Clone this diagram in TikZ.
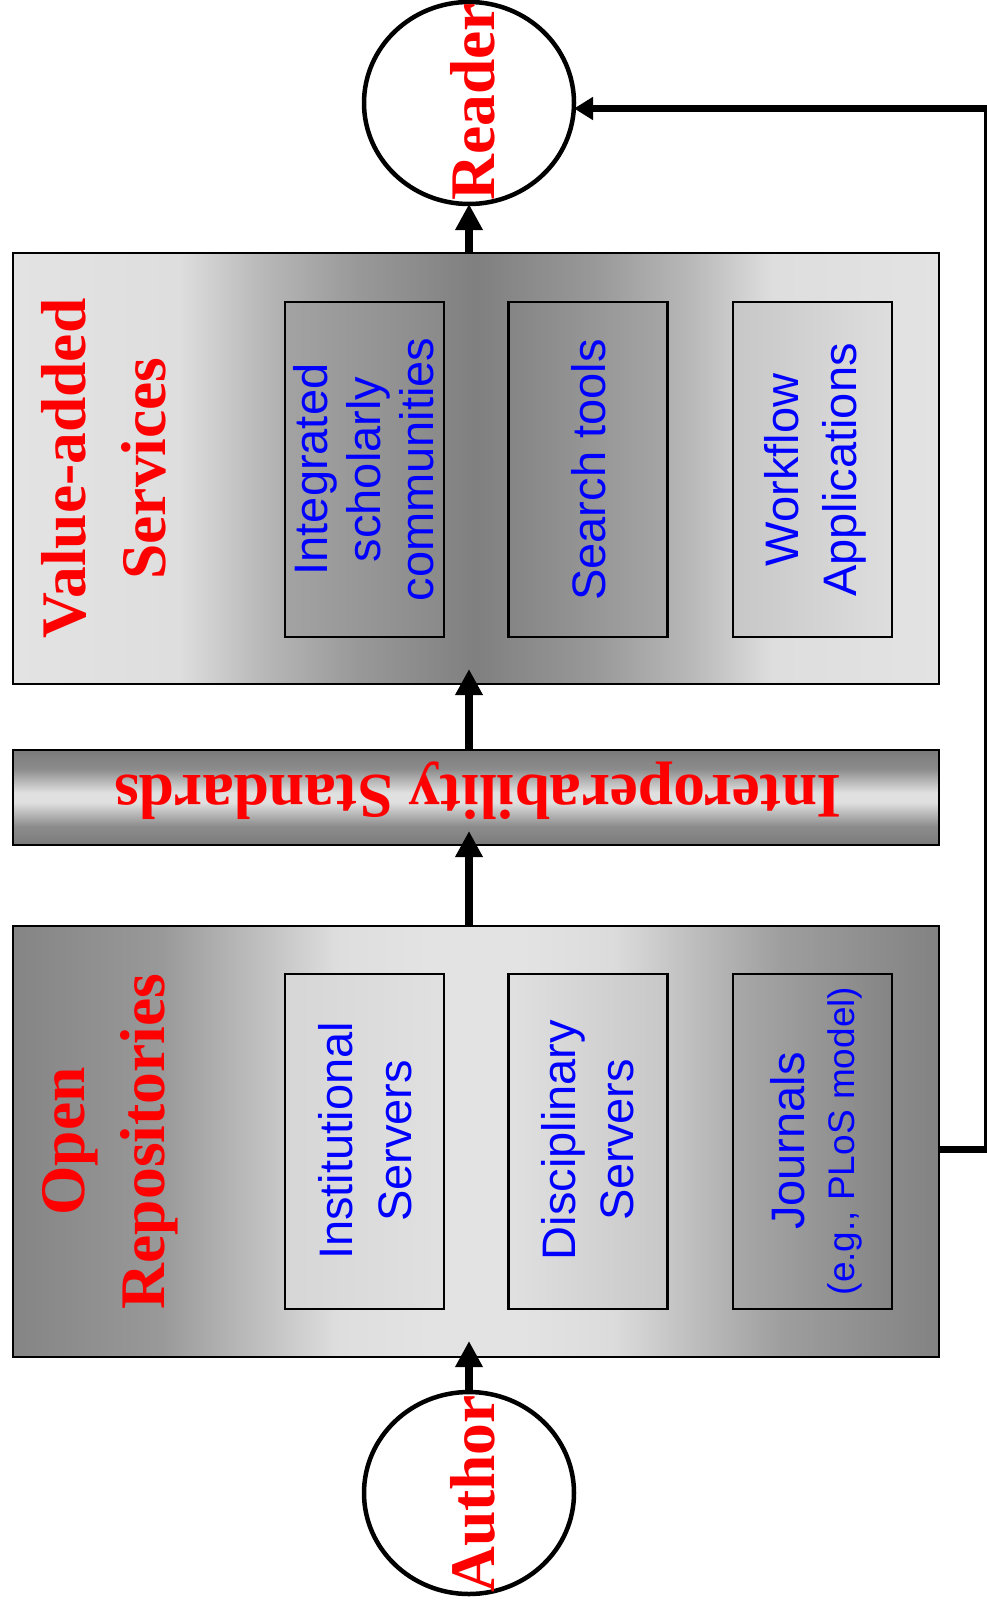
\documentclass[tikz,border=0pt]{standalone}
\usepackage{fontspec}
\setmainfont{Liberation Serif}
\newfontfamily\arialf{Liberation Sans}
\usetikzlibrary{arrows.meta,shapes.geometric}

\pgfdeclarehorizontalshading{vasshade}{100bp}{%
color(0bp)=(black!11); color(25bp)=(black!11); color(34bp)=(black!13);
color(38.5bp)=(black!28); color(43.5bp)=(black!40); color(50bp)=(black!50);
color(56.5bp)=(black!40); color(61.5bp)=(black!28); color(66bp)=(black!13);
color(75bp)=(black!11); color(100bp)=(black!11)}
\pgfdeclarehorizontalshading{orshade}{100bp}{%
color(0bp)=(black!48); color(25bp)=(black!48); color(33bp)=(black!40);
color(38bp)=(black!26); color(42.5bp)=(black!13); color(47.5bp)=(black!11);
color(52.5bp)=(black!11); color(57.5bp)=(black!14); color(61.5bp)=(black!25);
color(66.5bp)=(black!38); color(75bp)=(black!49); color(100bp)=(black!49)}
\pgfdeclareverticalshading{ioshade}{100bp}{%
color(0bp)=(black!52); color(25bp)=(black!52); color(35bp)=(black!45);
color(47.5bp)=(black!12); color(52.5bp)=(black!12); color(65bp)=(black!45);
color(75bp)=(black!52); color(100bp)=(black!52)}

\tikzset{
  outerbox/.style={draw=black, line width=2.5pt, minimum width=926pt, inner sep=0pt, outer sep=0pt},
  innerbox/.style={draw=black, line width=2.2pt, minimum width=159pt, minimum height=335pt, inner sep=0pt, outer sep=0pt},
  redfont/.style={text=red, font=\fontsize{63.5}{80}\selectfont\bfseries, inner sep=0pt},
  redtitle/.style={redfont, rotate=90, align=center},
  bluetext/.style={text=blue, rotate=90, align=center, inner sep=0pt},
  person/.style={ellipse, draw=black, line width=4.5pt, minimum width=210pt, minimum height=202pt, inner sep=0pt, outer sep=0pt},
  flow/.style={line width=8pt, -{Triangle[length=26pt,width=26pt]}},
}

\begin{document}
\begin{tikzpicture}[x=1pt,y=-1pt]
\useasboundingbox (0,0) rectangle (986,1611);

% outer boxes
\node[outerbox, minimum height=431pt, shading=vasshade] (vas) at (476,468.5) {};
\node[outerbox, minimum height=95pt, shading=ioshade] (io) at (476,797.5) {};
\node[outerbox, minimum height=431pt, shading=orshade] (or) at (476,1141.5) {};

% inner boxes
\node[innerbox, left color=black!36, right color=black!46] (isc) at (364.5,469.5) {};
\node[innerbox, left color=black!48, right color=black!35] (st) at (588,469.5) {};
\node[innerbox, left color=black!22, right color=black!13] (wa) at (812.5,469.5) {};
\node[innerbox, left color=black!16, right color=black!12] (is) at (364.5,1141.5) {};
\node[innerbox, left color=black!12, right color=black!22] (ds) at (588,1141.5) {};
\node[innerbox, left color=black!34, right color=black!48] (jn) at (812.5,1141.5) {};

% persons
\node[person] (reader) at (469,103) {};
\node[person] (author) at (469,1493) {};

% titles
\node[redtitle] (vast) at (103.5,468.5) {Value-added\\Services};
\node[redtitle] (ort) at (110,1141.5) {Open\\Repositories};
\node[redfont, rotate=180, anchor=base] (iot) at (478,775) {Interoperability Standards};
\node[redfont, rotate=90] (readert) at (473,102) {Reader};
\node[redfont, rotate=90] (authort) at (473,1494) {Author};

% inner texts
\node[bluetext, font=\arialf\fontsize{47}{53}\selectfont] (isct) at (364,469.5) {Integrated\\scholarly\\communities};
\node[bluetext, font=\arialf\fontsize{47}{54}\selectfont] (stt) at (589,470) {Search tools};
\node[bluetext, font=\arialf\fontsize{47}{58}\selectfont] (wat) at (815,470) {Workflow\\Applications};
\node[bluetext, font=\arialf\fontsize{47}{59}\selectfont] (ist) at (365,1141) {Institutional\\Servers};
\node[bluetext, font=\arialf\fontsize{47}{58}\selectfont] (dst) at (588,1140) {Disciplinary\\Servers};
\node[bluetext, font=\arialf\fontsize{47}{50}\selectfont] (jnt) at (816,1141) {Journals\\{\fontsize{37}{50}\selectfont (e.g., PLoS model)}};

% flow arrows
\draw[flow, shorten >=-16pt] (author.north) -- (author.north |- or.south);
\draw[flow, shorten >=-14pt] (author.north |- or.north) -- (author.north |- io.south);
\draw[flow, shorten >=-15pt] (author.north |- io.north) -- (author.north |- vas.south);
\draw[flow] (author.north |- vas.north) -- (reader.south);

% feedback
\coordinate (fbR) at (987,1149.5);
\coordinate (fbT) at (987,108.5);
\draw[line width=7pt, -{Triangle[length=19pt,width=22pt]}] (or.east |- fbR) -- (fbR) -- (fbT) -- (reader.east |- fbT);
\end{tikzpicture}
\end{document}
